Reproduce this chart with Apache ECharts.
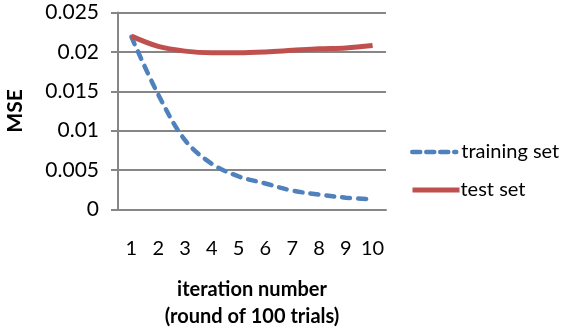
<!DOCTYPE html>
<html><head><meta charset="utf-8">
<script src="https://cdn.jsdelivr.net/npm/echarts@6/dist/echarts.min.js"></script>
<style>html,body{margin:0;padding:0;background:#fff}#c{width:568px;height:336px}</style>
</head><body><div id="c"></div>
<script>
const categories = ['1','2','3','4','5','6','7','8','9','10'];
const trainingSet = [0.0219, 0.0146, 0.0088, 0.0058, 0.0042, 0.0033, 0.0024, 0.0019, 0.0015, 0.0013];
const testSet = [0.0220, 0.0207, 0.0201, 0.0199, 0.0199, 0.0200, 0.0202, 0.0204, 0.0205, 0.0208];
const yTicks = [0, 0.005, 0.01, 0.015, 0.02, 0.025];

const FONT = 'Lato';
const chart = echarts.init(document.getElementById('c'), null, {renderer: 'canvas'});
const legendText = {fontFamily: FONT, fontSize: 20, color: '#000', lineHeight: 20};
chart.setOption({
  animation: false,
  textStyle: {fontFamily: FONT, color: '#000'},
  grid: {left: 118, right: 182, top: 12.5, bottom: 126.5},
  legend: [
    {left: 410, top: 142, padding: 0, itemWidth: 44, itemHeight: 20, itemGap: 0,
     itemStyle: {opacity: 0},
     lineStyle: {width: 4.5, type: [8, 6], cap: 'round', color: '#4F81BD'},
     textStyle: legendText, data: ['training set']},
    {left: 410, top: 180, padding: 0, itemWidth: 47, itemHeight: 20, itemGap: 0,
     itemStyle: {opacity: 0},
     lineStyle: {width: 5, color: '#C0504D'},
     textStyle: Object.assign({}, legendText, {padding: [0, 0, 0, -4]}), data: ['test set']}
  ],
  xAxis: {
    type: 'category', data: categories, boundaryGap: true,
    axisLine: {lineStyle: {color: '#868686', width: 2}},
    axisTick: {length: 7, interval: 0, lineStyle: {color: '#868686', width: 2}},
    axisLabel: {fontFamily: FONT, fontSize: 20, color: '#000', margin: 29, interval: 0},
    name: 'iteration number\n(round of 100 trials)', nameLocation: 'middle', nameGap: 67,
    nameTextStyle: {fontFamily: FONT, fontSize: 20, fontWeight: 'bold', color: '#000', lineHeight: 27}
  },
  yAxis: {
    type: 'value', min: 0, max: 0.025, interval: 0.005,
    axisLine: {show: true, lineStyle: {color: '#868686', width: 2}},
    axisTick: {show: true, length: 7, lineStyle: {color: '#868686', width: 2}},
    splitLine: {lineStyle: {color: '#868686', width: 2}},
    axisLabel: {fontFamily: FONT, fontSize: 21, color: '#000', margin: 19,
      formatter: v => { const t = yTicks.find(x => Math.abs(x - v) < 1e-9); return String(t !== undefined ? t : v); }},
    name: 'MSE', nameLocation: 'middle', nameGap: 92, nameRotate: 90,
    nameTextStyle: {fontFamily: FONT, fontSize: 21, fontWeight: 'bold', color: '#000'}
  },
  series: [
    {name: 'training set', type: 'line', data: trainingSet, smooth: 0.35, showSymbol: false, symbol: 'none',
     itemStyle: {color: '#4F81BD'},
     lineStyle: {color: '#4F81BD', width: 4.5, type: [8, 8], cap: 'round'}},
    {name: 'test set', type: 'line', data: testSet, smooth: 0.35, showSymbol: false, symbol: 'none',
     itemStyle: {color: '#C0504D'},
     lineStyle: {color: '#C0504D', width: 5}}
  ]
});
</script></body></html>
